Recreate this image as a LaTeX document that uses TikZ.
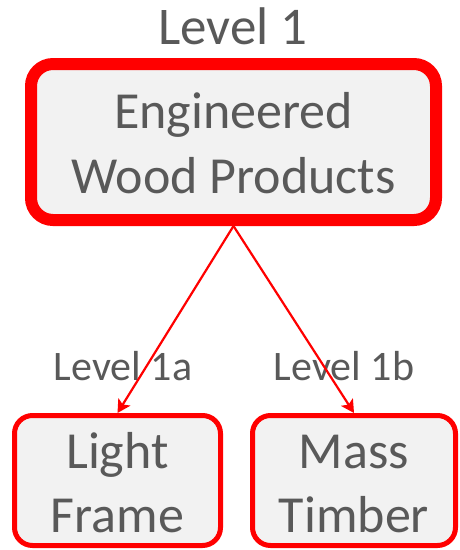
\documentclass[tikz,border=0pt]{standalone}
\usepackage{fontspec}
\setmainfont{Carlito}
\usetikzlibrary{arrows.meta}
\definecolor{txtgray}{HTML}{595959}
\definecolor{boxfill}{HTML}{F2F2F2}
\definecolor{edgered}{HTML}{FF0000}
\tikzset{
  mainbox/.style={draw=edgered, line width=12pt, fill=boxfill, rounded corners=22pt,
    minimum width=405pt, minimum height=156pt, inner sep=0pt, align=center,
    text=txtgray, font=\fontsize{52}{65}\selectfont, text height=102pt, text depth=0pt},
  subbox/.style={draw=edgered, line width=5pt, fill=boxfill, rounded corners=18pt,
    minimum height=130pt, inner sep=0pt, align=center,
    text=txtgray, font=\fontsize{52}{64}\selectfont, text height=103pt, text depth=0pt},
  levellabel/.style={text=txtgray, inner sep=0pt, anchor=base},
  link/.style={draw=edgered, line width=2.2pt, -{Stealth[length=13pt,width=14pt,inset=3pt]}}
}
\begin{document}
\begin{tikzpicture}[x=1pt, y=-1pt]
  \useasboundingbox (0,0) rectangle (460,550);
  % level captions
  \node[levellabel, font=\fontsize{53}{60}\selectfont] (lvtop) at (233,44) {Level 1};
  \node[levellabel, font=\fontsize{42}{48}\selectfont] (lva) at (123,380) {Level 1a};
  \node[levellabel, font=\fontsize{42}{48}\selectfont] (lvb) at (344,380) {Level 1b};
  % boxes
  \node[mainbox] (ewp) at (233.5,142) {Engineered\\Wood Products};
  \node[subbox, minimum width=206pt] (lf) at (117.5,480.5) {Light\\Frame};
  \node[subbox, minimum width=203pt] (mt) at (354,480.5) {Mass\\Timber};
  % connectors
  \draw[link] (ewp.south) -- (lf.north);
  \draw[link] (ewp.south) -- (mt.north);
\end{tikzpicture}
\end{document}
